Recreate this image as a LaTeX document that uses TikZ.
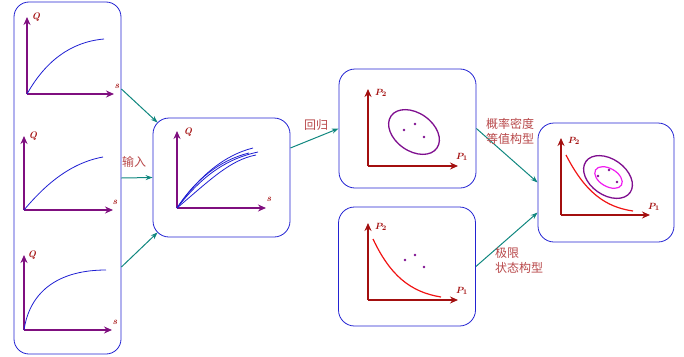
\documentclass[tikz,border=0pt]{standalone}
\usepackage{fontspec}
\usepackage{amsmath,bm}
\usetikzlibrary{arrows.meta,positioning,calc}
\newfontfamily\cjk{Noto Sans CJK SC}
\definecolor{frame}{HTML}{2323D2}
\definecolor{axis}{HTML}{7F0F7F}
\definecolor{axisred}{HTML}{A30F0F}
\definecolor{flow}{HTML}{10877F}
\definecolor{labelred}{HTML}{B8484A}
\definecolor{curve}{HTML}{1E1ED2}
\definecolor{dens}{HTML}{7F0F8F}
\definecolor{inner}{HTML}{F01EF0}
\definecolor{limit}{HTML}{F01414}
\tikzset{
  box/.style={draw=frame,thick,rounded corners=16pt,minimum width=137pt,minimum height=119pt},
  axq/.style={axis,line width=1.6pt,-{Stealth[length=8pt,width=7pt]}},
  axp/.style={axisred,line width=1.4pt,-{Stealth[length=8pt,width=7pt]}},
  flowarr/.style={flow,line width=1pt,-{Stealth[length=7pt,width=5pt]}},
  axlab/.style={font=\fontsize{9.5}{11}\selectfont\bfseries\itshape,text=axisred,inner sep=1pt},
  cntext/.style={font=\cjk\fontsize{12}{15}\selectfont,text=labelred,inner sep=1pt},
  dot/.style={fill=dens,circle,inner sep=0pt,minimum size=2.8pt}
}
\begin{document}
\begin{tikzpicture}[x=1pt,y=-1pt]
  \useasboundingbox (0,0) rectangle (684,356);

  % Boxes
  \node[box,rounded corners=15pt,minimum width=107pt,minimum height=352pt] (inbox) at (67.5,178) {};
  \node[box] (mid) at (221.5,177.5) {};
  \node[box] (reg) at (407.5,128.5) {};
  \node[box] (lim) at (407,266.5) {};
  \node[box,minimum width=136pt] (res) at (606,182.5) {};

  % Left: three input curves
  \draw[axq] (27,94) -- (27,17);
  \draw[axq] (27,94) -- (114,94);
  \draw[curve,thick] (27,94) .. controls (45,62) and (70,42) .. (104,39);
  \node[axlab] (q1) at (36,17) {Q};
  \node[axlab] (s1) at (117,86) {s};

  \draw[axq] (24,210) -- (24,136);
  \draw[axq] (24,210) -- (113,210);
  \draw[curve,thick] (24,210) .. controls (45,185) and (70,163) .. (103,157);
  \node[axlab] (q2) at (33,136) {Q};
  \node[axlab] (s2) at (115,202) {s};

  \draw[axq] (24,330) -- (24,255);
  \draw[axq] (24,330) -- (112,330);
  \draw[curve,thick] (24,330) .. controls (30,290) and (60,270) .. (106,270);
  \node[axlab] (q3) at (32,255) {Q};
  \node[axlab] (s3) at (115,322) {s};

  % Middle: curves together
  \draw[axq] (177,208) -- (177,131);
  \draw[axq] (177,208) -- (266,208);
  \draw[curve,thick] (177,208) .. controls (200,175) and (225,155) .. (253,148);
  \draw[curve,thick] (177,208) .. controls (205,172) and (230,158) .. (258,152);
  \draw[curve,thick] (177,208) .. controls (210,180) and (230,160) .. (256,155);
  \draw[curve,thick] (177,208) .. controls (195,180) and (220,160) .. (249,153);
  \node[axlab] (qm) at (188,132) {Q};
  \node[axlab] (sm) at (269,199) {s};

  % Regression: density contour
  \draw[axp] (368,166) -- (368,89);
  \draw[axp] (368,166) -- (458,166);
  \draw[dens,line width=1.3pt,rotate around={-35:(414,132)}] (414,132) ellipse [x radius=28,y radius=19];
  \node[dot] (r1) at (404,130) {};
  \node[dot] (r2) at (415,124) {};
  \node[dot] (r3) at (424,137) {};
  \node[axlab] (p2r) at (381,93) {$\bm{P_2}$};
  \node[axlab] (p1r) at (462,157) {$\bm{P_1}$};

  % Limit state
  \draw[axp] (368,300) -- (368,223);
  \draw[axp] (368,300) -- (458,300);
  \draw[limit,line width=1.2pt] (373,239) .. controls (390,275) and (410,292) .. (441,297);
  \node[dot] (l1) at (405,260) {};
  \node[dot] (l2) at (415,255) {};
  \node[dot] (l3) at (424,267) {};
  \node[axlab] (p2l) at (381,227) {$\bm{P_2}$};
  \node[axlab] (p1l) at (462,291) {$\bm{P_1}$};

  % Result
  \draw[axp] (561,215) -- (561,138);
  \draw[axp] (561,215) -- (650,215);
  \draw[limit,line width=1.2pt] (566,155) .. controls (585,192) and (605,207) .. (633,211);
  \draw[dens,line width=1.3pt,rotate around={-35:(608,177)}] (608,177) ellipse [x radius=27,y radius=18];
  \draw[inner,line width=1.2pt,rotate around={-30:(608.5,177.5)}] (608.5,177.5) ellipse [x radius=15,y radius=9];
  \node[dot] (f1) at (598,176) {};
  \node[dot] (f2) at (609,170) {};
  \node[dot] (f3) at (617,182) {};
  \node[axlab] (p2f) at (574,141) {$\bm{P_2}$};
  \node[axlab] (p1f) at (654,207) {$\bm{P_1}$};

  % Flow arrows
  \draw[flowarr] ($(inbox.east)+(0,-89)$) -- ($(mid.north west)+(5,5)$);
  \draw[flowarr] (inbox.east) -- (mid.west);
  \draw[flowarr] ($(inbox.east)+(0,89)$) -- ($(mid.south west)+(5,-5)$);
  \draw[flowarr] ($(mid.east)+(0,-29.5)$) -- (reg.west);
  \draw[flowarr] (reg.east) -- (res.west);
  \draw[flowarr] (lim.east) -- ($(res.west)+(0,30)$);

  \node[cntext] (input) at (134,162) {输入};
  \node[cntext] (regr) at (316,125) {回归};
  \node[cntext,align=center] (pdf) at (510,131) {概率密度\\等值构型};
  \node[cntext,align=left,anchor=west] (lsc) at (494,260) {极限\\状态构型};
\end{tikzpicture}
\end{document}
